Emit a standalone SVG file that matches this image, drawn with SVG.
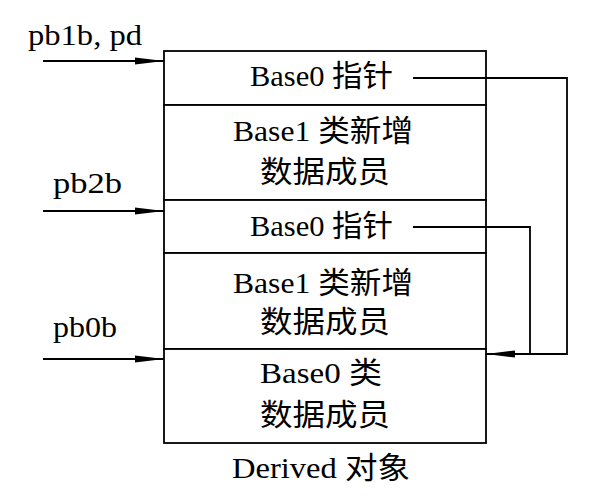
<svg xmlns="http://www.w3.org/2000/svg" width="615" height="501" viewBox="0 0 615 501">
<defs>
<style>
.t{font-family:"Liberation Serif","Noto Sans CJK SC",serif;font-size:30px;fill:#000}
.ln{stroke:#000;stroke-width:1.8;fill:none}
.bx{stroke:#000;stroke-width:1.8;fill:#fff}
</style>
<marker id="ah" markerWidth="30" markerHeight="10" refX="29" refY="5" orient="auto" markerUnits="userSpaceOnUse">
<path d="M0,1.5 L29,5 L0,8.5 Z" fill="#000"/>
</marker>
</defs>
<rect width="615" height="501" fill="#fff"/>
<g id="derived">
<g id="row-base0ptr-1"><rect class="bx" x="164" y="51" width="322" height="54"/><text class="t" x="250" y="86" textLength="143" lengthAdjust="spacingAndGlyphs">Base0 指针</text></g>
<g id="row-base1data-1"><rect class="bx" x="164" y="105" width="322" height="95"/><text class="t" x="233" y="141" textLength="180" lengthAdjust="spacingAndGlyphs">Base1 类新增</text><text class="t" x="260" y="182" textLength="130" lengthAdjust="spacingAndGlyphs">数据成员</text></g>
<g id="row-base0ptr-2"><rect class="bx" x="164" y="200" width="322" height="53"/><text class="t" x="250" y="236" textLength="143" lengthAdjust="spacingAndGlyphs">Base0 指针</text></g>
<g id="row-base1data-2"><rect class="bx" x="164" y="253" width="322" height="96"/><text class="t" x="233" y="293" textLength="180" lengthAdjust="spacingAndGlyphs">Base1 类新增</text><text class="t" x="260" y="332" textLength="130" lengthAdjust="spacingAndGlyphs">数据成员</text></g>
<g id="row-base0data"><rect class="bx" x="164" y="349" width="322" height="94"/><text class="t" x="260" y="383" textLength="122" lengthAdjust="spacingAndGlyphs">Base0 类</text><text class="t" x="260" y="425" textLength="130" lengthAdjust="spacingAndGlyphs">数据成员</text></g>
<text class="t" x="232" y="478" textLength="178" lengthAdjust="spacingAndGlyphs">Derived 对象</text>
</g>
<g id="labels">
<text class="t" x="28" y="45" textLength="114" lengthAdjust="spacingAndGlyphs">pb1b, pd</text>
<text class="t" x="53" y="193" textLength="69" lengthAdjust="spacingAndGlyphs">pb2b</text>
<text class="t" x="53" y="337" textLength="64" lengthAdjust="spacingAndGlyphs">pb0b</text>
</g>
<g id="connectors">
<path class="ln" d="M43,61 H164" marker-end="url(#ah)"/>
<path class="ln" d="M43,211 H164" marker-end="url(#ah)"/>
<path class="ln" d="M43,359 H164" marker-end="url(#ah)"/>
<path class="ln" d="M413,78 H567 V354 H486" marker-end="url(#ah)"/>
<path class="ln" d="M413,227 H530 V354"/>
</g>
</svg>
